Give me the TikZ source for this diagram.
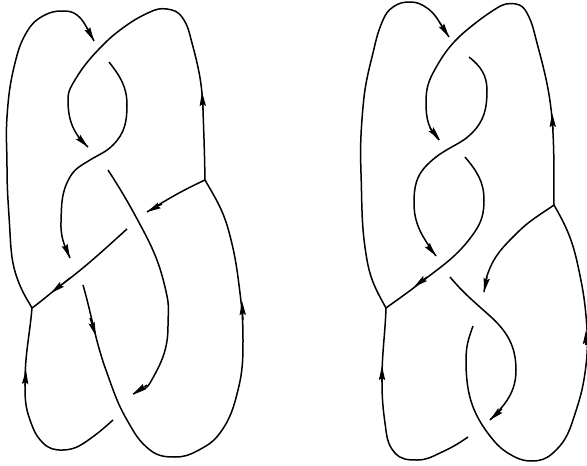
\documentclass[tikz,border=0pt]{standalone}
\usetikzlibrary{arrows.meta}
\tikzset{
  strand/.style={line width=1.5pt,line cap=butt,line join=round},
  tt/.style 2 args={out=#1,in={#2+180}},
  tipseg/.style={line width=1.3pt,-{Stealth[length=14pt,width=6.2pt,inset=2pt]}}
}
\begin{document}
\begin{tikzpicture}[x=1pt,y=-1pt]
\useasboundingbox (0,0) rectangle (587,466);
\fill[white] (0,0) rectangle (587,466);
% vertices
\coordinate (La) at (32,308);
\coordinate (Lb) at (205,180);
\coordinate (Ra) at (386,308);
\coordinate (Rb) at (554,205);
% left diagram
\draw[strand] (La) to[tt={119}{115}] (22,290) to[tt={115}{93}] (10,233) to[tt={93}{90}] (7,167) to[tt={90}{86}] (7,117) to[tt={86}{76}] (15,63) to[tt={76}{58}] (28,30) to[tt={58}{29}] (43,16) to[tt={29}{0}] (62,11) to[tt={0}{-38}] (77,15) to[tt={-38}{-60}] (87,28) to[tt={-60}{-64}] (94,41);
\draw[strand] (Lb) to[tt={91}{92}] (203,110) to[tt={92}{105}] (192,43) to[tt={105}{125}] (182,17) to[tt={125}{172}] (167,9) to[tt={172}{205}] (150,12) to[tt={205}{215}] (127,25) to[tt={215}{226}] (100,48) to[tt={226}{240}] (72,85) to[tt={240}{270}] (68,100) to[tt={270}{318}] (88,147);
\draw[strand] (109,62) to[tt={-52}{270}] (127,105) to[tt={270}{225}] (113,145) to[tt={225}{212}] (90,160) to[tt={212}{240}] (70,177) to[tt={240}{268}] (61,222) to[tt={268}{295}] (70,258);
\draw[strand] (Lb) to[tt={205}{212}] (147,212);
\draw[strand] (108,170) to[tt={-57}{-62}] (143,230) to[tt={-62}{-78}] (167,296) to[tt={-78}{-90}] (168,326) to[tt={-90}{-120}] (150,383) to[tt={-120}{-155}] (133,394);
\draw[strand] (127,229) to[tt={222}{217}] (60,286) to[tt={217}{216}] (La);
\draw[strand] (La) to[tt={265}{270}] (25,383) to[tt={270}{-70}] (30,420) to[tt={-70}{-45}] (43,443) to[tt={-45}{2}] (63,450) to[tt={2}{35}] (87,441) to[tt={35}{42}] (113,420);
\draw[strand] (83,285) to[tt={-74}{-70}] (107,373) to[tt={-70}{-60}] (127,420) to[tt={-60}{-38}] (150,450) to[tt={-38}{0}] (175,457) to[tt={0}{28}] (197,451) to[tt={28}{54}] (220,433) to[tt={54}{76}] (238,390) to[tt={76}{90}] (243,340) to[tt={90}{97}] (240,293) to[tt={97}{105}] (229,232) to[tt={105}{120}] (Lb);
% right diagram
\draw[strand] (Ra) to[tt={119}{100}] (367,260) to[tt={100}{92}] (361,173) to[tt={92}{85}] (363,107) to[tt={85}{76}] (372,57) to[tt={76}{66}] (383,20) to[tt={66}{35}] (393,7) to[tt={35}{0}] (410,2) to[tt={0}{-35}] (427,8) to[tt={-35}{-58}] (440,23) to[tt={-58}{-57}] (449,37);
\draw[strand] (Rb) to[tt={91}{93}] (553,133) to[tt={93}{105}] (537,43) to[tt={105}{118}] (527,13) to[tt={118}{170}] (516,4) to[tt={170}{212}] (497,8) to[tt={212}{218}] (473,25) to[tt={218}{242}] (433,73) to[tt={242}{270}] (426,103) to[tt={270}{315}] (439,140);
\draw[strand] (469,57) to[tt={-38}{-90}] (487,90) to[tt={-90}{-135}] (472,133) to[tt={225}{210}] (450,148) to[tt={210}{225}] (427,165) to[tt={225}{270}] (414,203) to[tt={270}{305}] (436,256);
\draw[strand] (465,157) to[tt={-50}{-90}] (484,200) to[tt={270}{235}] (474,233) to[tt={235}{218}] (420,283) to[tt={218}{216}] (Ra);
\draw[strand] (Rb) to[tt={215}{225}] (517,233) to[tt={225}{250}] (488,273) to[tt={250}{260}] (484,292);
\draw[strand] (450,277) to[tt={-50}{-42}] (490,316) to[tt={-42}{-90}] (516,370) to[tt={-90}{-135}] (490,420);
\draw[strand] (Ra) to[tt={268}{270}] (382,380) to[tt={270}{-82}] (385,423) to[tt={-82}{-48}] (395,453) to[tt={-48}{0}] (417,460) to[tt={0}{25}] (440,453) to[tt={25}{35}] (468,437);
\draw[strand] (473,326) to[tt={250}{270}] (466,360) to[tt={270}{-52}] (490,436) to[tt={-52}{-28}] (513,456) to[tt={-28}{0}] (532,461) to[tt={0}{42}] (553,453) to[tt={42}{72}] (573,420) to[tt={72}{82}] (585,373) to[tt={82}{95}] (586,316) to[tt={95}{102}] (578,266) to[tt={102}{120}] (Rb);
% arrow tips, left
\draw[tipseg] (87,28) -- (94,41);
\draw[tipseg] (78,137) -- (88,147);
\draw[tipseg] (65,246) -- (70,258);
\draw[tipseg] (162,204) -- (147,212);
\draw[tipseg] (147,385) -- (133,394);
\draw[tipseg] (203,110) -- (202,92);
\draw[tipseg] (70,278) -- (51,293);
\draw[tipseg] (90,318) -- (96,336);
\draw[tipseg] (243,320) -- (242,301);
\draw[tipseg] (25,386) -- (26,370);
% arrow tips, right
\draw[tipseg] (440,23) -- (449,37);
\draw[tipseg] (430,128) -- (440,140);
\draw[tipseg] (428,246) -- (436,256);
\draw[tipseg] (487,277) -- (484,292);
\draw[tipseg] (502,409) -- (490,420);
\draw[tipseg] (553,130) -- (552,113);
\draw[tipseg] (427,277) -- (414,287);
\draw[tipseg] (382,382) -- (382,366);
\draw[tipseg] (586,345) -- (586,330);
\end{tikzpicture}
\end{document}
